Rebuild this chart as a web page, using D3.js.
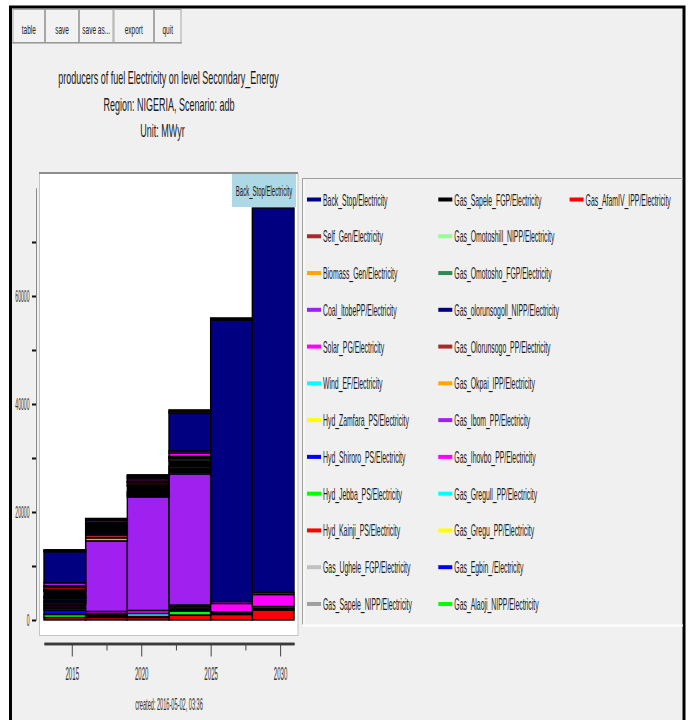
<!DOCTYPE html>
<html>
<head>
<meta charset="utf-8">
<script src="https://cdn.jsdelivr.net/npm/d3@7"></script>
<style>
  html, body { margin: 0; padding: 0; background: #ffffff; }
  svg { display: block; font-family: "Liberation Sans", Arial, sans-serif; }
</style>
</head>
<body>
<svg id="chart" width="691" height="720"></svg>
<script>
// ---- data -------------------------------------------------------------
// model periods: each bar covers [start, end)
const periodStart = [2013, 2016, 2019, 2022, 2025, 2028];
const periodEnd   = [2016, 2019, 2022, 2025, 2028, 2031];

const xTickYears  = [2015, 2020, 2025, 2030];
const xMinorYears = [2017.5, 2022.5, 2027.5];
const yTickValues = [0, 20000, 40000, 60000];
const yMinorValues = [10000, 30000, 50000, 70000];

const buttonLabels = ["table", "save", "save as...", "export", "quit"];
const titleLines = [
  "producers of fuel Electricity on level Secondary_Energy",
  "Region: NIGERIA, Scenario: adb",
  "Unit: MWyr"
];
const createdLabel = "created: 2016-05-02, 03:36";
const hoverLabel = "Back_Stop/Electricity";

// production per period, MWyr
const backStop        = [5740, 190, 190, 7040, 52130, 71200];
const selfGen         = [190, 110, 190, 280, 190, 0];
const biomassGen      = [190, 130, 190, 280, 190, 0];
const coalItobe       = [560, 370, 190, 370, 370, 370];
const solarPG         = [190, 0, 370, 650, 1570, 2220];
const windEF          = [0, 0, 90, 90, 0, 0];
const hydZamfara      = [0, 0, 90, 0, 0, 0];
const hydShiroro      = [0, 0, 90, 90, 0, 0];
const hydJebba        = [0, 0, 90, 90, 0, 0];
const hydKainji       = [460, 0, 370, 90, 190, 370];
const gasUghele       = [190, 190, 90, 90, 0, 0];
const gasSapeleNIPP   = [190, 190, 90, 370, 0, 0];
const gasSapeleFGP    = [930, 1110, 1110, 1020, 280, 280];
const gasOmotoshill   = [190, 190, 190, 280, 0, 0];
const gasOmotosho     = [190, 190, 190, 280, 0, 0];
const gasOlorunsogoll = [460, 370, 190, 280, 0, 0];
const gasOlorunsogo   = [280, 560, 190, 280, 0, 0];
const gasOkpai        = [280, 560, 190, 280, 0, 0];
const gasIbom         = [280, 13060, 21020, 24260, 0, 0];
const gasIhovbo       = [280, 370, 560, 280, 0, 0];
const gasGregull      = [280, 190, 560, 280, 0, 0];
const gasGregu        = [280, 190, 190, 280, 0, 0];
const gasEgbin        = [830, 190, 0, 280, 0, 0];
const gasAlaoji       = [560, 190, 0, 740, 0, 0];
const gasAfamIV       = [460, 460, 460, 930, 1020, 1850];

// legend order (column by column)
const seriesNames = [
  "Back_Stop/Electricity", "Self_Gen/Electricity", "Biomass_Gen/Electricity",
  "Coal_ItobePP/Electricity", "Solar_PG/Electricity", "Wind_EF/Electricity",
  "Hyd_Zamfara_PS/Electricity", "Hyd_Shiroro_PS/Electricity", "Hyd_Jebba_PS/Electricity",
  "Hyd_Kainji_PS/Electricity", "Gas_Ughele_FGP/Electricity", "Gas_Sapele_NIPP/Electricity",
  "Gas_Sapele_FGP/Electricity", "Gas_Omotoshill_NIPP/Electricity", "Gas_Omotosho_FGP/Electricity",
  "Gas_olorunsogoll_NIPP/Electricity", "Gas_Olorunsogo_PP/Electricity", "Gas_Okpai_IPP/Electricity",
  "Gas_Ibom_PP/Electricity", "Gas_Ihovbo_PP/Electricity", "Gas_Gregull_PP/Electricity",
  "Gas_Gregu_PP/Electricity", "Gas_Egbin_/Electricity", "Gas_Alaoji_NIPP/Electricity",
  "Gas_AfamIV_IPP/Electricity"
];
const seriesValues = [
  backStop, selfGen, biomassGen, coalItobe, solarPG, windEF, hydZamfara, hydShiroro,
  hydJebba, hydKainji, gasUghele, gasSapeleNIPP, gasSapeleFGP, gasOmotoshill, gasOmotosho,
  gasOlorunsogoll, gasOlorunsogo, gasOkpai, gasIbom, gasIhovbo, gasGregull, gasGregu,
  gasEgbin, gasAlaoji, gasAfamIV
];

// stacking order, bottom to top
const stackOrder = [
  "Gas_AfamIV_IPP/Electricity", "Gas_Alaoji_NIPP/Electricity", "Gas_Egbin_/Electricity",
  "Gas_Gregu_PP/Electricity", "Gas_Gregull_PP/Electricity", "Gas_Ihovbo_PP/Electricity",
  "Gas_Ibom_PP/Electricity", "Gas_Okpai_IPP/Electricity", "Gas_Olorunsogo_PP/Electricity",
  "Gas_olorunsogoll_NIPP/Electricity", "Gas_Omotosho_FGP/Electricity", "Gas_Omotoshill_NIPP/Electricity",
  "Gas_Sapele_FGP/Electricity", "Gas_Sapele_NIPP/Electricity", "Gas_Ughele_FGP/Electricity",
  "Hyd_Kainji_PS/Electricity", "Hyd_Jebba_PS/Electricity", "Hyd_Shiroro_PS/Electricity",
  "Hyd_Zamfara_PS/Electricity", "Wind_EF/Electricity", "Solar_PG/Electricity",
  "Coal_ItobePP/Electricity", "Back_Stop/Electricity", "Biomass_Gen/Electricity",
  "Self_Gen/Electricity"
];

// ---- styles -----------------------------------------------------------
const palette = [
  "#000080", "#a52a2a", "#ffa500", "#a020f0", "#ff00ff", "#00ffff", "#ffff00", "#0000ff",
  "#00ff00", "#ff0000", "#c0c0c0", "#a0a0a0", "#000000", "#98fb98", "#2e8b57",
  "#000080", "#a52a2a", "#ffa500", "#a020f0", "#ff00ff", "#00ffff", "#ffff00", "#0000ff",
  "#00ff00", "#ff0000"
];
const colorOf = d3.scaleOrdinal().domain(seriesNames).range(palette);

const svg = d3.select("#chart");

// condensed text: draw at (x, y) squeezed horizontally by sx
function squeezed(parent, x, y, str, size, sx, anchor, fill) {
  return parent.append("text")
    .attr("transform", `translate(${x},${y}) scale(${sx},1)`)
    .attr("font-size", size)
    .attr("text-anchor", anchor || "start")
    .attr("fill", fill || "#1a1a1a")
    .text(str);
}

// ---- window frame -----------------------------------------------------
svg.append("rect")
  .attr("x", 10.5).attr("y", 7).attr("width", 673.5).attr("height", 730)
  .attr("fill", "#f0f0f0").attr("stroke", "#000").attr("stroke-width", 3);

// toolbar buttons
const buttonEdges = [12.5, 45, 79, 113.5, 154, 181.5];
const toolbar = svg.append("g");
buttonLabels.forEach((lab, i) => {
  const x0 = buttonEdges[i], x1 = buttonEdges[i + 1];
  toolbar.append("rect")
    .attr("x", x0 + 0.5).attr("y", 9.5).attr("width", x1 - x0 - 1).attr("height", 33)
    .attr("fill", "#f2f2f2").attr("stroke", "#a8a8a8").attr("stroke-width", 1);
  squeezed(toolbar, (x0 + x1) / 2, 34, lab, 13, 0.5, "middle", "#222");
});
toolbar.append("line").attr("x1", 12).attr("x2", 182).attr("y1", 43).attr("y2", 43)
  .attr("stroke", "#8a8a8a").attr("stroke-width", 1);

// titles
const titleX = [168.5, 169, 162.5];
const titleY = [84, 110.5, 137];
titleLines.forEach((t, i) => squeezed(svg, titleX[i], titleY[i], t, 18, 0.5, "middle", "#1a1a1a"));

// ---- plot panel ---------------------------------------------------------
svg.append("rect")
  .attr("x", 39.5).attr("y", 173.5).attr("width", 258.5).attr("height", 462)
  .attr("fill", "#ffffff").attr("stroke", "#c4c4c4").attr("stroke-width", 1);
svg.append("line").attr("x1", 39).attr("x2", 298).attr("y1", 173).attr("y2", 173)
  .attr("stroke", "#8c8c8c").attr("stroke-width", 2);

const x = d3.scaleLinear().domain([periodStart[0], periodEnd[periodEnd.length - 1]]).range([44, 294]);
const y = d3.scaleLinear().domain([0, 80000]).range([620, 188]);

// stacked bars
const rows = periodStart.map((s, i) => {
  const r = {};
  seriesNames.forEach((n, k) => { r[n] = seriesValues[k][i]; });
  return r;
});
const layers = d3.stack().keys(stackOrder)(rows);

const barG = svg.append("g");
layers.forEach(layer => {
  const segs = layer.map((d, i) => ({ i, y0: d[0], y1: d[1] })).filter(s => s.y1 - s.y0 > 0);
  barG.selectAll(null).data(segs).join("rect")
    .attr("x", s => x(periodStart[s.i]))
    .attr("width", s => x(periodEnd[s.i]) - x(periodStart[s.i]))
    .attr("y", s => y(s.y1))
    .attr("height", s => y(s.y0) - y(s.y1))
    .attr("fill", colorOf(layer.key))
    .attr("stroke", "#000")
    .attr("stroke-width", 1.4);
});

// hover label on the last bar
const hover = svg.append("g");
hover.append("rect").attr("x", 232).attr("y", 174).attr("width", 64).attr("height", 33)
  .attr("fill", "#add8e6");
squeezed(hover, 264, 196, hoverLabel, 15, 0.4, "middle", "#1a1a1a");

// ---- y axis -------------------------------------------------------------
const yAxisG = svg.append("g").attr("transform", "translate(36,0)");
yAxisG.call(d3.axisLeft(y).tickValues(yTickValues).tickSize(4).tickSizeOuter(0).tickFormat(d3.format("d")));
yAxisG.append("g").call(d3.axisLeft(y).tickValues(yMinorValues).tickSize(4).tickSizeOuter(0).tickFormat(""));
yAxisG.selectAll(".domain").attr("stroke", "#8a8a8a").attr("stroke-width", 1);
yAxisG.selectAll(".tick line").attr("stroke", "#111").attr("stroke-width", 2);
const ySx = 0.3;
yAxisG.selectAll(".tick text")
  .attr("font-family", "Liberation Sans, Arial, sans-serif")
  .attr("font-size", 17)
  .attr("fill", "#333")
  .attr("x", -6.5 / ySx)
  .attr("dy", "0.35em")
  .attr("transform", `scale(${ySx},1)`);

// ---- x axis -------------------------------------------------------------
const xAxisG = svg.append("g").attr("transform", "translate(0,643.5)");
xAxisG.call(d3.axisBottom(x).tickValues(xTickYears).tickSize(13).tickSizeOuter(0).tickFormat(d3.format("d")));
xAxisG.append("g").call(d3.axisBottom(x).tickValues(xMinorYears).tickSize(7).tickSizeOuter(0).tickFormat(""));
xAxisG.selectAll(".domain").attr("stroke", "#3a3a3a").attr("stroke-width", 2.5);
xAxisG.selectAll(".tick line").attr("stroke", "#444").attr("stroke-width", 1);
xAxisG.selectAll(".tick text")
  .attr("font-family", "Liberation Sans, Arial, sans-serif")
  .attr("font-size", 18)
  .attr("fill", "#333")
  .attr("y", 24)
  .attr("dy", "0.71em")
  .attr("transform", "scale(0.34,1)");

squeezed(svg, 169, 709.5, createdLabel, 17, 0.33, "middle", "#333");

// ---- legend -------------------------------------------------------------
svg.append("line").attr("x1", 302.5).attr("x2", 302.5).attr("y1", 178).attr("y2", 626)
  .attr("stroke", "#a0a0a0").attr("stroke-width", 1);
svg.append("line").attr("x1", 302).attr("x2", 683).attr("y1", 178.5).attr("y2", 178.5)
  .attr("stroke", "#a0a0a0").attr("stroke-width", 1);
svg.append("line").attr("x1", 302).attr("x2", 683).attr("y1", 625.5).attr("y2", 625.5)
  .attr("stroke", "#ffffff").attr("stroke-width", 2);
svg.append("line").attr("x1", 304).attr("x2", 304).attr("y1", 180).attr("y2", 625)
  .attr("stroke", "#ffffff").attr("stroke-width", 1);

const legendRows = 12;
const legendG = svg.append("g");
seriesNames.forEach((name, k) => {
  const col = Math.floor(k / legendRows), row = k % legendRows;
  const sx = 307 + col * 131.3;
  const cy = 199.5 + row * 36.77;
  legendG.append("rect")
    .attr("x", sx).attr("y", cy - 2).attr("width", 14).attr("height", 4)
    .attr("fill", colorOf(name));
  squeezed(legendG, sx + 16, cy + 6, name, 16, 0.43, "start", "#1a1a1a");
});
</script>
</body>
</html>
